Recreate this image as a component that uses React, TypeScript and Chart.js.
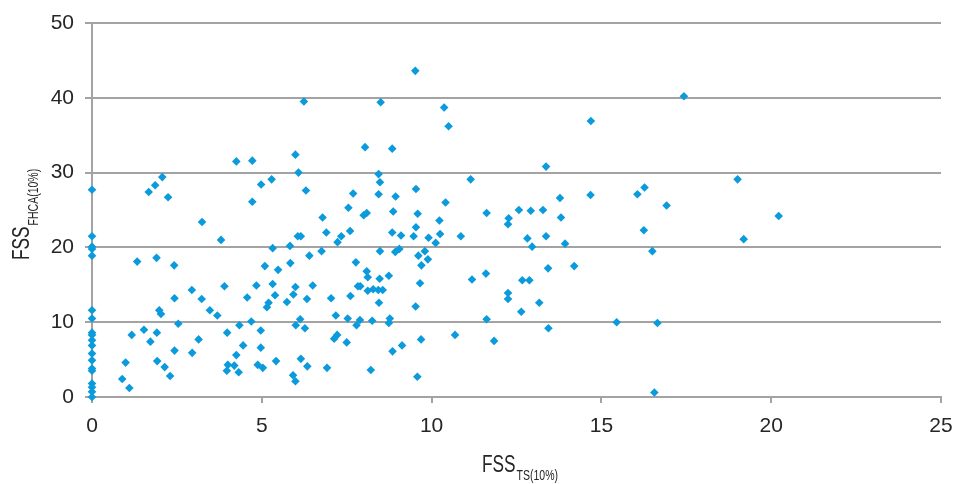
import React, { useEffect, useRef } from "react";
import { Chart, registerables } from "chart.js";

Chart.register(...registerables);

// FSS TS(10%) values (x)
const fssTs: number[] = [
  0, 0, 0, 0, 0, 0, 0, 0, 0, 0, 0, 0, 0, 0, 0, 0, 0, 0, 0,
  1.67, 1.86, 2.07, 2.24, 4.25, 4.72, 4.72, 4.98, 5.29, 5.99, 6.08, 6.24, 6.3,
  0.89, 0.99, 1.1, 1.17, 1.33, 1.53, 1.72, 1.9, 1.91, 1.92, 1.98, 2.03, 2.14, 2.3, 2.42, 2.43, 2.43, 2.54,
  2.94, 2.95, 3.14, 3.23, 3.24, 3.47, 3.69, 3.8, 3.9, 3.98, 4.0, 3.97, 4.19, 4.25, 4.32, 4.34, 4.45, 4.57,
  4.69, 4.84, 4.88, 4.97, 4.97, 5.03, 5.09, 5.15, 5.2, 5.32, 5.32, 5.39, 5.42, 5.48, 5.74, 5.83, 5.84, 5.93,
  5.92, 5.99, 5.99, 6.0, 6.06, 6.15, 6.13, 6.15, 6.27, 6.33, 6.34, 6.4, 6.5, 6.76,
  9.52, 8.5, 10.37, 10.5, 8.04, 8.84, 8.44, 8.48, 11.15, 9.54, 7.69, 8.44, 8.94, 7.55, 6.79, 8.0, 8.09, 8.87,
  9.59, 10.41, 11.62, 10.23, 9.54, 6.9, 7.34, 7.6, 8.84, 9.1, 9.47, 9.91, 10.25, 10.86,
  7.23, 10.12, 8.48, 8.93, 9.05, 9.8, 9.61, 9.89, 9.7, 7.77, 8.09, 8.12, 8.47, 8.74,
  9.66, 7.04, 7.61, 7.83, 7.9, 8.12, 8.28, 8.43, 8.56, 8.45, 9.53, 7.18, 7.53, 7.89, 7.79, 8.25, 8.77, 8.74,
  7.22, 7.13, 7.5, 9.69, 9.13, 8.85, 6.92, 8.21, 9.58,
  13.37, 19.01, 14.68, 16.06, 16.27, 16.92, 13.78, 13.81, 12.27, 12.25, 12.57, 12.92, 13.28, 12.82, 13.37,
  12.96, 13.93, 16.25, 16.5, 20.22, 19.19, 14.2, 13.43, 11.19, 11.6, 12.67, 12.88, 12.25, 12.25, 13.17,
  12.64, 11.62, 10.69, 11.84, 13.44, 15.45, 16.65, 16.56, 17.43, 14.69,
];

// FSS FHCA(10%) values (y)
const fssFhca: number[] = [
  27.7, 21.5, 20.1, 19.8, 18.9, 11.6, 10.5, 8.6, 8.3, 7.6, 6.9, 5.8, 4.9, 3.8, 3.5, 1.8, 1.3, 0.7, 0,
  27.4, 28.3, 29.4, 26.7, 31.5, 31.6, 26.1, 28.4, 29.1, 32.4, 30.0, 39.5, 27.6,
  2.4, 4.6, 1.2, 8.3, 18.1, 9.0, 7.4, 18.6, 8.6, 4.8, 11.6, 11.1, 4.0, 2.8, 17.6, 13.2, 6.2, 9.8,
  14.3, 5.9, 7.7, 13.1, 23.4, 11.6, 10.9, 21.0, 14.8, 8.6, 4.3, 3.5, 4.2, 5.6, 3.3, 9.6, 6.9, 13.3,
  10.1, 14.9, 4.3, 8.9, 6.6, 3.9, 17.5, 12.0, 12.6, 19.9, 15.1, 13.6, 4.8, 17.0, 12.7, 20.2, 17.9, 13.7,
  2.9, 2.1, 14.7, 9.6, 21.5, 21.5, 10.4, 5.1, 9.2, 13.1, 4.1, 18.9, 14.9, 19.5,
  43.6, 39.4, 38.7, 36.2, 33.4, 33.2, 29.8, 28.7, 29.1, 27.8, 27.2, 27.1, 26.8, 25.3, 24.0, 24.3, 24.6, 24.8,
  24.5, 26.0, 24.6, 23.6, 22.7, 22.0, 21.5, 22.2, 22.0, 21.6, 21.5, 21.3, 21.8, 21.5,
  20.7, 20.6, 19.5, 19.4, 19.8, 19.5, 18.9, 18.4, 17.6, 18.0, 16.8, 16.0, 15.8, 16.2,
  15.2, 13.2, 13.5, 14.8, 14.8, 14.2, 14.4, 14.3, 14.3, 12.6, 12.1, 10.9, 10.5, 10.3, 9.6, 10.2, 10.5, 9.9,
  8.3, 7.8, 7.3, 7.7, 6.9, 6.1, 3.9, 3.6, 2.7,
  30.8, 29.1, 27.0, 27.1, 28.0, 25.6, 26.6, 24.0, 23.9, 23.1, 25.0, 24.9, 25.0, 21.2, 21.5,
  20.1, 20.5, 22.3, 19.5, 24.2, 21.1, 17.5, 17.2, 15.7, 16.5, 15.6, 15.6, 13.9, 13.1, 12.6,
  11.4, 10.4, 8.3, 7.5, 9.2, 10.0, 9.9, 0.6, 40.2, 36.9,
];

const xTickValues: number[] = [0, 5, 10, 15, 20, 25];
const yTickValues: number[] = [0, 10, 20, 30, 40, 50];

const xTitleMain = "FSS";
const xTitleSub = "TS(10%)";
const yTitleMain = "FSS";
const yTitleSub = "FHCA(10%)";

const FONT = '"Liberation Sans", Arial, sans-serif';
const TEXT_COLOR = "#262626";
const GRID_COLOR = "#a3a3a3";
const POINT_COLOR = "#0b9bdc";
const SQUEEZE = 0.75;

const titlePlugin = {
  id: "subscriptTitles",
  afterDraw(chart: any) {
    const ctx = chart.ctx as CanvasRenderingContext2D;
    ctx.save();
    ctx.fillStyle = TEXT_COLOR;
    ctx.textBaseline = "alphabetic";
    ctx.textAlign = "left";

    // x title: main + subscript, horizontally condensed
    ctx.font = `23px ${FONT}`;
    const wMain = ctx.measureText(xTitleMain).width * SQUEEZE;
    ctx.save();
    ctx.translate(482, 472);
    ctx.scale(SQUEEZE, 1);
    ctx.fillText(xTitleMain, 0, 0);
    ctx.restore();
    ctx.save();
    ctx.translate(482 + wMain + 1, 480);
    ctx.scale(SQUEEZE, 1);
    ctx.font = `14px ${FONT}`;
    ctx.fillText(xTitleSub, 0, 0);
    ctx.restore();

    // y title (rotated, reading bottom-to-top)
    ctx.font = `23px ${FONT}`;
    const yMain = ctx.measureText(yTitleMain).width * SQUEEZE;
    const startY = 260;
    ctx.save();
    ctx.translate(28.5, startY);
    ctx.rotate(-Math.PI / 2);
    ctx.scale(SQUEEZE, 1);
    ctx.fillText(yTitleMain, 0, 0);
    ctx.restore();
    ctx.save();
    ctx.translate(37.5, startY - yMain - 1);
    ctx.rotate(-Math.PI / 2);
    ctx.scale(SQUEEZE, 1);
    ctx.font = `14px ${FONT}`;
    ctx.fillText(yTitleSub, 0, 0);
    ctx.restore();
    ctx.restore();
  },
};

export default function App() {
  const canvasRef = useRef<HTMLCanvasElement | null>(null);

  useEffect(() => {
    if (!canvasRef.current) return;
    const data = fssTs.map((x, i) => ({ x, y: fssFhca[i] }));
    const chart = new Chart(canvasRef.current, {
      type: "scatter",
      data: {
        datasets: [
          {
            data,
            clip: false,
            pointStyle: "rectRot",
            pointRadius: 4.3,
            pointBackgroundColor: POINT_COLOR,
            pointBorderColor: POINT_COLOR,
            pointBorderWidth: 0,
            pointHoverRadius: 4.3,
          },
        ],
      },
      options: {
        animation: false,
        responsive: false,
        maintainAspectRatio: false,
        devicePixelRatio: 1,
        layout: { padding: { top: 23, right: 14, left: 0, bottom: 0 } },
        plugins: { legend: { display: false }, tooltip: { enabled: false } },
        scales: {
          x: {
            type: "linear",
            min: 0,
            max: 25,
            afterBuildTicks: (scale: any) => {
              scale.ticks = xTickValues.map((v) => ({ value: v }));
            },
            afterFit: (scale: any) => {
              scale.height = 87;
              scale.paddingLeft = 0;
              scale.paddingRight = 0;
            },
            grid: {
              drawOnChartArea: false,
              drawTicks: true,
              tickLength: 6,
              color: GRID_COLOR,
              lineWidth: 2,
            },
            border: { display: true, color: GRID_COLOR, width: 2 },
            ticks: {
              color: TEXT_COLOR,
              font: { family: FONT, size: 21 },
              padding: 11,
              maxRotation: 0,
            },
          },
          y: {
            type: "linear",
            min: 0,
            max: 50,
            afterBuildTicks: (scale: any) => {
              scale.ticks = yTickValues.map((v) => ({ value: v }));
            },
            afterFit: (scale: any) => {
              scale.width = 92;
              scale.paddingTop = 0;
              scale.paddingBottom = 0;
            },
            grid: {
              drawOnChartArea: true,
              drawTicks: true,
              tickLength: 7,
              color: GRID_COLOR,
              lineWidth: 2,
            },
            border: { display: true, color: GRID_COLOR, width: 2 },
            ticks: {
              color: TEXT_COLOR,
              font: { family: FONT, size: 21 },
              padding: 11,
            },
          },
        },
      },
      plugins: [titlePlugin],
    });
    return () => chart.destroy();
  }, []);

  return (
    <div style={{ position: "fixed", left: 0, top: 0, width: 955, height: 484, background: "#fff" }}>
      <canvas ref={canvasRef} width={955} height={484} style={{ width: 955, height: 484 }} />
    </div>
  );
}
